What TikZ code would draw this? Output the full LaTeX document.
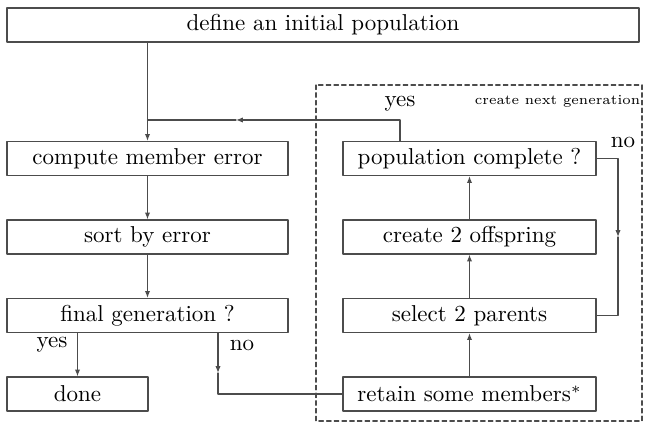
\documentclass[tikz,border=0pt]{standalone}
\usepackage{amsmath}
\usepackage{tikz}
\usetikzlibrary{arrows.meta, positioning, calc}

\begin{document}
\begin{tikzpicture}[x=0.435pt, y=0.435pt, >={Latex[length=3pt,width=2.3pt]}, line cap=round, line join=round]
    % Styles
    \tikzset{
        stepbox/.style={draw=black!70, line width=0.5pt, rectangle, inner sep=0pt, minimum height=14.8pt, font=\normalsize},
        leftbox/.style={stepbox, minimum width=122.2pt},
        rightbox/.style={stepbox, minimum width=110.1pt},
        flow/.style={draw=black!70, line width=0.5pt},
        genframe/.style={draw=black!70, line width=0.45pt, dash pattern=on 2pt off 1.35pt}
    }
    
    % Picture size (pixel grid of the sketch, y pointing down)
    \useasboundingbox (0,0) rectangle (646,-422);
    
    % --- Frame of the next generation ---
    \draw[genframe] (316,-85) rectangle (642,-421);
    \node[font=\fontsize{6}{7.5}\selectfont] (framelabel) at (557.5,-101) {create next generation};
    
    % --- Main column ---
    \node[stepbox, minimum width=274.9pt] (init) at (323,-25) {define an initial population};
    \node[leftbox] (compute) at (147.5,-158.5) {compute member error};
    \node[leftbox] (sort) at (147.5,-237) {sort by error};
    \node[leftbox] (final) at (147.5,-315.5) {final generation ?};
    \node[stepbox, minimum width=61.3pt] (done) at (77.5,-394) {done};
    
    % --- Generation column ---
    \node[rightbox] (popc) at (469.5,-158.5) {population complete ?};
    \node[rightbox] (offspring) at (469.5,-237) {create 2 offspring};
    \node[rightbox] (parents) at (469.5,-315.5) {select 2 parents};
    \node[rightbox] (retain) at (469.5,-394) {retain some members$^*$};
    
    % --- Turning points ---
    \coordinate (merge) at (147.5,-120);
    \coordinate (yesturn) at (400,-120);
    \coordinate (yestip) at (236,-120);
    \coordinate (notip) at (218,-373);
    \coordinate (noturn) at (218,-394);
    \coordinate (loopturn) at (618,-158.5);
    \coordinate (looptip) at (618,-237);
    \coordinate (loopend) at (618,-315.5);
    
    % --- Main flow ---
    \draw[flow, ->] (init.south -| compute.north) -- (compute.north);
    \draw[flow, ->] (compute) -- (sort);
    \draw[flow, ->] (sort) -- (final);
    \draw[flow, ->] (final.south -| done.north) -- (done.north);
    \node[font=\normalsize] (yesdone) at (52,-345) {yes};
    
    % final generation ? -- no
    \draw[flow, ->] (final.south -| notip) -- (notip);
    \draw[flow] (notip) -- (noturn) -- (retain.west);
    \node[font=\normalsize] (nofinal) at (242,-345) {no};
    
    % --- Generation loop ---
    \draw[flow, ->] (retain) -- (parents);
    \draw[flow, ->] (parents) -- (offspring);
    \draw[flow, ->] (offspring) -- (popc);
    
    % population complete ? -- no
    \draw[flow, ->] (popc.east) -- (loopturn) -- (looptip);
    \draw[flow] (looptip) -- (loopend) -- (parents.east);
    \node[font=\normalsize] (nopop) at (623,-142) {no};
    
    % population complete ? -- yes
    \draw[flow, ->] (popc.north -| yesturn) -- (yesturn) -- (yestip);
    \draw[flow] (yestip) -- (merge);
    \node[font=\normalsize] (yespop) at (400,-104) {yes};

\end{tikzpicture}
\end{document}
